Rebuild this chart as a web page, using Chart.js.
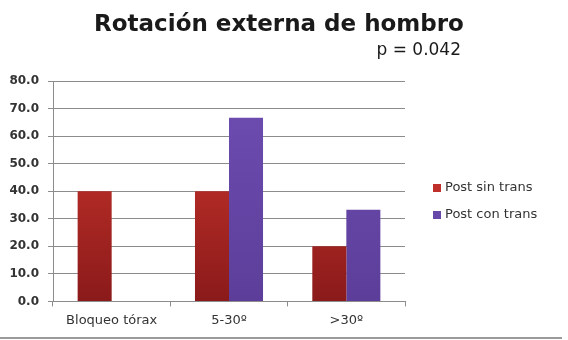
<!DOCTYPE html>
<html>
<head>
<meta charset="utf-8">
<script src="https://cdn.jsdelivr.net/npm/chart.js@4/dist/chart.umd.min.js"></script>
<style>
  html, body { margin: 0; padding: 0; background: #fff; }
  #wrap { position: relative; width: 568px; height: 340px; }
  #edge { position: absolute; left: 0; top: 337px; width: 562px; height: 2px; background: #9a9a9a; }
</style>
</head>
<body>
<div id="wrap">
  <canvas id="myChart" width="568" height="340"></canvas>
  <div id="edge"></div>
</div>
<script>
var categories = ['Bloqueo tórax', '5-30º', '>30º'];
var sinTrans = [40.0, 40.0, 20.0];
var conTrans = [null, 66.7, 33.3];
var titleText = 'Rotación externa de hombro';
var pText = 'p = 0.042';
var legendColors = ['#c0302a', '#6648a8'];

function grad(ctx, top, bottom) {
  var area = ctx.chart.chartArea;
  if (!area) return top;
  var g = ctx.chart.ctx.createLinearGradient(0, area.top, 0, area.bottom);
  g.addColorStop(0, top);
  g.addColorStop(1, bottom);
  return g;
}

// title, p value and the legend on the right
var textPlugin = {
  id: 'texts',
  afterDraw: function(chart) {
    var c = chart.ctx;
    c.save();
    c.fillStyle = '#1a1a1a';
    c.textBaseline = 'middle';
    c.font = 'bold 23px "DejaVu Sans"';
    c.textAlign = 'center';
    c.fillText(titleText, 279, 25);
    c.font = '17px "DejaVu Sans"';
    c.textAlign = 'right';
    c.fillText(pText, 461, 51);

    c.font = '13px "DejaVu Sans"';
    c.textAlign = 'left';
    chart.data.datasets.forEach(function(ds, i) {
      var y = 188 + i * 27;
      c.fillStyle = legendColors[i];
      c.fillRect(433, y - 4, 8, 8);
      c.fillStyle = '#333';
      c.fillText(ds.label, 445, y);
    });
    c.restore();
  }
};

var ctx = document.getElementById('myChart').getContext('2d');
var myChart = new Chart(ctx, {
  type: 'bar',
  data: {
    labels: categories,
    datasets: [{
      label: 'Post sin trans',
      data: sinTrans,
      backgroundColor: function(c) { return grad(c, '#d63a30', '#8a1a1a'); },
      borderWidth: 0
    }, {
      label: 'Post con trans',
      data: conTrans,
      backgroundColor: function(c) { return grad(c, '#6e4eb2', '#5c3e9a'); },
      borderWidth: 0
    }]
  },
  plugins: [textPlugin],
  options: {
    responsive: false,
    animation: false,
    datasets: {
      bar: { barPercentage: 1.0, categoryPercentage: 0.58 }
    },
    layout: {
      padding: { top: 81, left: 4, right: 163, bottom: 6 }
    },
    plugins: {
      title: { display: false },
      tooltip: { enabled: false },
      legend: { display: false }
    },
    scales: {
      y: {
        min: 0,
        max: 80,
        afterFit: function(s) { s.width = 49; },
        ticks: {
          stepSize: 10,
          color: '#333',
          padding: 9,
          font: { family: 'DejaVu Sans', size: 12, weight: 'bold' },
          callback: function(v) { return v.toFixed(1); }
        },
        grid: { color: '#8c8c8c', tickLength: 5 },
        border: { color: '#8c8c8c' }
      },
      x: {
        ticks: {
          color: '#333',
          padding: 6,
          font: { family: 'DejaVu Sans', size: 13 }
        },
        grid: { drawOnChartArea: false, color: '#8c8c8c', tickLength: 5 },
        border: { color: '#8c8c8c' }
      }
    }
  }
});
</script>
</body>
</html>
